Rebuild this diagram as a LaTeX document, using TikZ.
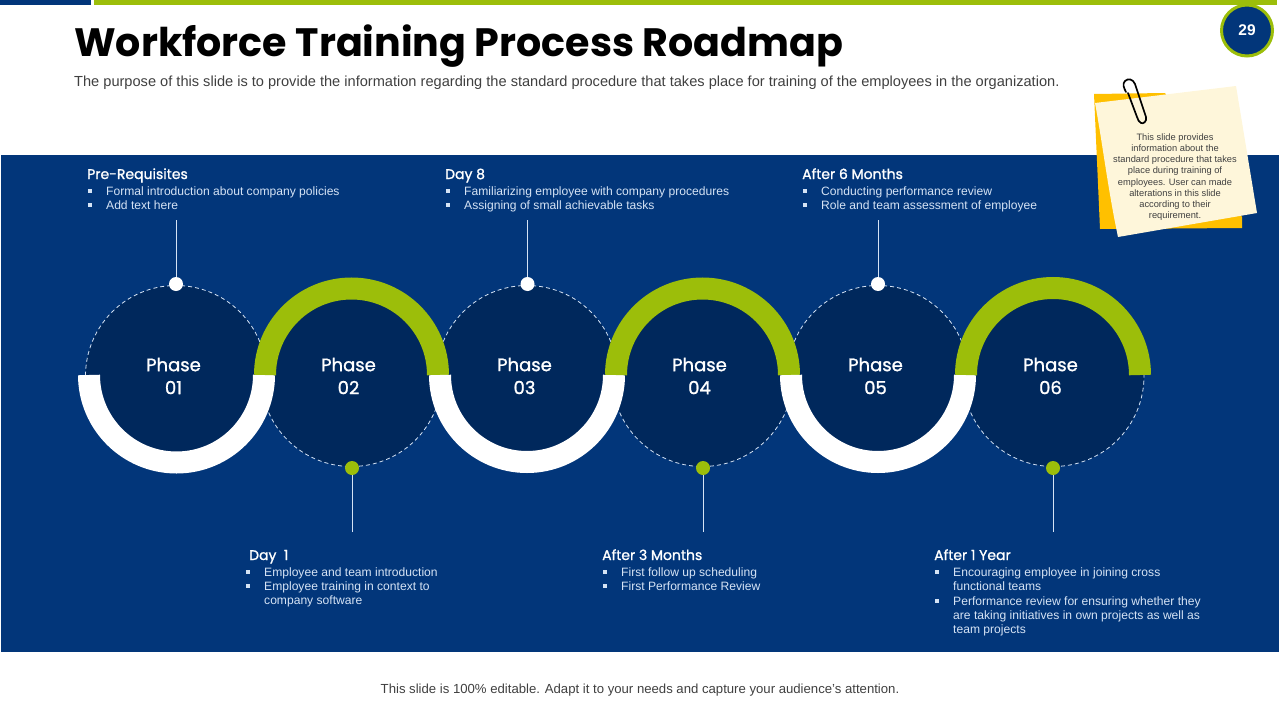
\documentclass[tikz,border=0pt]{standalone}
\usepackage{fontspec}
\setmainfont{Liberation Sans}
\newfontfamily\gothic{Poppins}
\newfontfamily\gothicsemi[FakeBold=1.2]{Poppins}
\definecolor{navy}{HTML}{02367A}
\definecolor{deepnavy}{HTML}{00285C}
\definecolor{leaf}{HTML}{9CBE0A}
\definecolor{pale}{HTML}{D5E3F5}
\definecolor{note}{HTML}{FEF6DA}
\definecolor{noteback}{HTML}{FFC000}
\tikzset{
  phase/.style={circle,draw=pale,dash pattern=on 4 off 3,line width=0.8,fill=deepnavy,minimum size=181,inner sep=0},
  phasetext/.style={text=white,align=center,font=\gothicsemi\fontsize{18}{23}\selectfont},
  ringwhite/.style={draw=white,line width=22},
  ringgreen/.style={draw=leaf,line width=22},
  whitedot/.style={circle,fill=white,minimum size=14,inner sep=0},
  greendot/.style={circle,fill=leaf,minimum size=14,inner sep=0},
  lead/.style={draw=pale,line width=0.7},
  heading/.style={anchor=base west,inner sep=0,text=white,font=\gothicsemi\fontsize{14}{16}\selectfont},
  item/.style={anchor=north west,inner sep=0,text=pale,align=left,font=\fontsize{12.1}{14.2}\selectfont},
  bullet/.style={fill=pale,minimum size=4,inner sep=0},
}
\begin{document}
\begin{tikzpicture}[x=1pt, y=-1pt]
	  \useasboundingbox (0,0) rectangle (1280,720);

	  % top bars and panel
	  \fill [navy] (0,0) rectangle (91,5);
	  \fill [leaf] (94,0) rectangle (1277,5);
	  \fill [navy] (1,155) rectangle (1279,652);

	  \node [anchor=base west,inner sep=0,font=\gothic\bfseries\fontsize{39.6}{42}\selectfont] (title) at (74,56) {Workforce Training Process Roadmap};
	  \node [anchor=base west,inner sep=0,text=black!75,font=\fontsize{14.6}{16}\selectfont] (subtitle) at (74,86) {The purpose of this slide is to provide the information regarding the standard procedure that takes place for training of the employees in the organization.};
	  \node [anchor=base,inner sep=0,text=black!75,font=\fontsize{13.15}{15}\selectfont] (footer) at (640,693) {This slide is 100\% editable. Adapt it to your needs and capture your audience's attention.};

	  % page number
	  \node [circle,draw=leaf,line width=3,fill=navy,minimum size=51,inner sep=0,text=white,font=\bfseries\fontsize{15.5}{17}\selectfont] (badge) at (1247,30.5) {29};

	  % phases
	  \node [phase] (ph1) at (176,376) {};
	  \node [phase] (ph2) at (351.5,376) {};
	  \node [phase] (ph3) at (527,376) {};
	  \node [phase] (ph4) at (702.5,376) {};
	  \node [phase] (ph5) at (878,376) {};
	  \node [phase] (ph6) at (1053.5,376) {};

	  \draw [ringwhite] (78+11,375) arc [start angle=180,end angle=0,radius=87.5];
	  \draw [ringgreen] (254+11,375) arc [start angle=180,end angle=360,radius=86.5];
	  \draw [ringwhite] (429+11,375) arc [start angle=180,end angle=0,radius=87];
	  \draw [ringgreen] (605+11,375) arc [start angle=180,end angle=360,radius=86.5];
	  \draw [ringwhite] (780+11,375) arc [start angle=180,end angle=0,radius=87];
	  \draw [ringgreen] (955+11,375) arc [start angle=180,end angle=360,radius=87];

	  \node [phasetext] (lab1) at (173.5,376) {Phase\\01};
	  \node [phasetext] (lab2) at (348.5,376) {Phase\\02};
	  \node [phasetext] (lab3) at (524.5,376) {Phase\\03};
	  \node [phasetext] (lab4) at (699.5,376) {Phase\\04};
	  \node [phasetext] (lab5) at (875.5,376) {Phase\\05};
	  \node [phasetext] (lab6) at (1050.5,376) {Phase\\06};

	  % leads
	  \node [whitedot] (dot1) at (176,284) {};
	  \node [greendot] (dot2) at (352,468) {};
	  \node [whitedot] (dot3) at (527.5,284) {};
	  \node [greendot] (dot4) at (703,468) {};
	  \node [whitedot] (dot5) at (878,284) {};
	  \node [greendot] (dot6) at (1053,468) {};
	  \coordinate (end1) at (176,220);
	  \coordinate (end2) at (352,532);
	  \coordinate (end3) at (527.5,220);
	  \coordinate (end4) at (703,532);
	  \coordinate (end5) at (878,220);
	  \coordinate (end6) at (1053,532);
	  \draw [lead] (end1) -- (dot1);
	  \draw [lead] (end2) -- (dot2);
	  \draw [lead] (end3) -- (dot3);
	  \draw [lead] (end4) -- (dot4);
	  \draw [lead] (end5) -- (dot5);
	  \draw [lead] (end6) -- (dot6);

	  % texts
	  \node [heading] (head1) at (87,179) {Pre-Requisites};
	  \node [bullet] (b11) at (89.5,190.5) {};
	  \node [item] (t11) at (106,186.5) {Formal introduction about company policies};
	  \node [bullet] (b12) at (89.5,204.5) {};
	  \node [item] (t12) at (106,200.5) {Add text here};

	  \node [heading] (head3) at (445,179) {Day 8};
	  \node [bullet] (b31) at (448,190.5) {};
	  \node [item] (t31) at (464,186.5) {Familiarizing employee with company procedures};
	  \node [bullet] (b32) at (448,204.5) {};
	  \node [item] (t32) at (464,200.5) {Assigning of small achievable tasks};

	  \node [heading] (head5) at (802,179) {After 6 Months};
	  \node [bullet] (b51) at (805,190.5) {};
	  \node [item] (t51) at (821,186.5) {Conducting performance review};
	  \node [bullet] (b52) at (805,204.5) {};
	  \node [item] (t52) at (821,200.5) {Role and team assessment of employee};

	  \node [heading] (head2) at (249,560) {Day\ \ 1};
	  \node [bullet] (b21) at (248,571.5) {};
	  \node [item] (t21) at (264,567.5) {Employee and team introduction};
	  \node [bullet] (b22) at (248,585.5) {};
	  \node [item] (t22) at (264,581.5) {Employee training in context to\\company software};

	  \node [heading] (head4) at (602,560) {After 3 Months};
	  \node [bullet] (b41) at (605,571.5) {};
	  \node [item] (t41) at (621,567.5) {First follow up scheduling};
	  \node [bullet] (b42) at (605,585.5) {};
	  \node [item] (t42) at (621,581.5) {First Performance Review};

	  \node [heading] (head6) at (934,560) {After 1 Year};
	  \node [bullet] (b61) at (937,571.5) {};
	  \node [item] (t61) at (953,567.5) {Encouraging employee in joining cross\\functional teams};
	  \node [bullet] (b62) at (937,600.5) {};
	  \node [item] (t62) at (953,596.5) {Performance review for ensuring whether they\\are taking initiatives in own projects as well as\\team projects};

	  % sticky note
	  \fill [noteback] (1094,94) -- (1165,93) -- (1242,217) -- (1242,228) -- (1100,229) -- cycle;
	  \fill [note] (1095,103) -- (1236,86) -- (1257,213) -- (1118,237) .. controls (1108,190) and (1102,140) .. (1095,103);
	  \draw [black,line width=1.7,line cap=round] (1126,92) .. controls (1124,88) and (1122,84) .. (1125,81) .. controls (1128,78) and (1133,79) .. (1135,84) -- (1146,117) .. controls (1147,122) and (1143,124) .. (1141,123) .. controls (1139,122) and (1138,120) .. (1137,117) -- (1128,93);
	  \node [align=center,inner sep=0,text=black!75,font=\fontsize{9.3}{11.2}\selectfont] (notetext) at (1175,177) {This slide provides\\information about the\\standard procedure that takes\\place during training of\\employees. User can made\\alterations in this slide\\according to their\\requirement.};
	\end{tikzpicture}
\end{document}
